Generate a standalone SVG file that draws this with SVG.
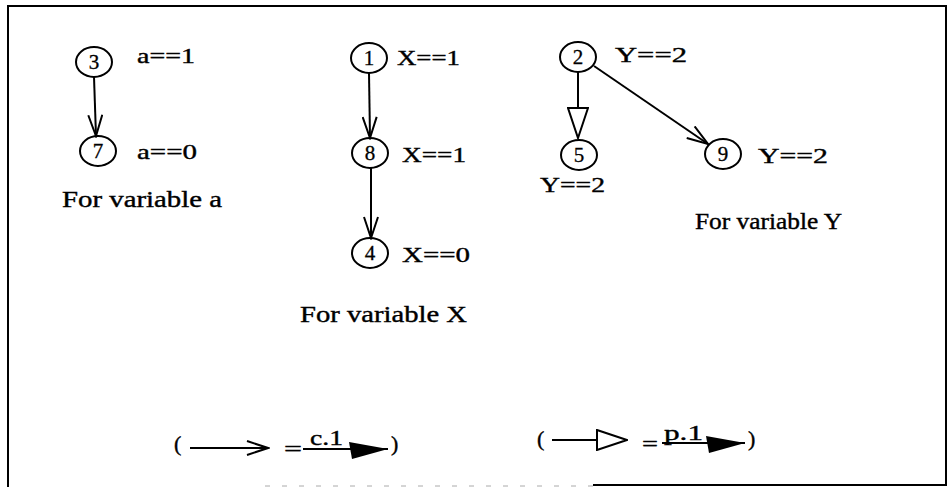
<svg xmlns="http://www.w3.org/2000/svg" width="949" height="487" viewBox="0 0 949 487">
<style>
.n{fill:none;stroke:#000;stroke-width:2}
.t{font-family:"Liberation Serif","Times New Roman",serif;font-size:22px;fill:#000;stroke:#000;stroke-width:0.4}
.c{font-size:23px}
.d{font-family:"Liberation Serif","Times New Roman",serif;font-size:21px;fill:#000;stroke:#000;stroke-width:0.3;text-anchor:middle}
.e{fill:none;stroke:#000;stroke-width:2}
</style>
<defs>
<marker id="vee" viewBox="0 0 24 16" markerWidth="24" markerHeight="16" refX="22" refY="8" orient="auto" markerUnits="userSpaceOnUse">
<path d="M1,1 L22,8 L1,15" fill="none" stroke="#000" stroke-width="2"/>
</marker>
<marker id="tri" viewBox="0 0 32 22" markerWidth="32" markerHeight="22" refX="31" refY="11" orient="auto" markerUnits="userSpaceOnUse">
<path d="M1,1 L31,11 L1,21 Z" fill="#fff" stroke="#000" stroke-width="2"/>
</marker>
<marker id="fill" viewBox="0 0 40 20" markerWidth="40" markerHeight="20" refX="39" refY="9" orient="auto" markerUnits="userSpaceOnUse">
<path d="M0,2 L39,9 L3,19 Z" fill="#000"/>
</marker>
</defs>
<rect width="949" height="487" fill="#fff"/>
<g id="frame" fill="none" stroke="#000" stroke-width="2">
<path d="M8,487 L8,6 L946,6 L946,485 L593,485"/>
<path d="M265,486 L593,486" stroke="#aaa" stroke-width="1" stroke-dasharray="5,12"/>
</g>
<g id="connectors">
<line class="e" x1="94" y1="77" x2="96" y2="136" marker-end="url(#vee)"/>
<line class="e" x1="369" y1="73" x2="370" y2="138" marker-end="url(#vee)"/>
<line class="e" x1="371" y1="168" x2="371" y2="238" marker-end="url(#vee)"/>
<line class="e" x1="578" y1="72" x2="578" y2="138" marker-end="url(#tri)"/>
<line class="e" x1="594" y1="66" x2="708" y2="144" marker-end="url(#vee)"/>
</g>
<g id="n3"><ellipse class="n" cx="94" cy="62" rx="18" ry="15"/><text class="d" x="94" y="69">3</text><text class="t" x="137" y="63" textLength="58" lengthAdjust="spacingAndGlyphs">a==1</text></g>
<g id="n7"><ellipse class="n" cx="98" cy="151" rx="18" ry="15"/><text class="d" x="98" y="158">7</text><text class="t" x="137" y="159" textLength="60" lengthAdjust="spacingAndGlyphs">a==0</text></g>
<g id="n1"><ellipse class="n" cx="369" cy="58" rx="18" ry="15"/><text class="d" x="369" y="65">1</text><text class="t" x="397" y="65" textLength="63" lengthAdjust="spacingAndGlyphs">X==1</text></g>
<g id="n8"><ellipse class="n" cx="370" cy="153" rx="18" ry="15"/><text class="d" x="370" y="160">8</text><text class="t" x="402" y="162" textLength="64" lengthAdjust="spacingAndGlyphs">X==1</text></g>
<g id="n4"><ellipse class="n" cx="370" cy="253" rx="18" ry="15"/><text class="d" x="370" y="260">4</text><text class="t" x="402" y="262" textLength="68" lengthAdjust="spacingAndGlyphs">X==0</text></g>
<g id="n2"><ellipse class="n" cx="578" cy="57" rx="18" ry="15"/><text class="d" x="578" y="64">2</text><text class="t" x="615" y="62" textLength="72" lengthAdjust="spacingAndGlyphs">Y==2</text></g>
<g id="n5"><ellipse class="n" cx="579" cy="155" rx="18" ry="15"/><text class="d" x="579" y="162">5</text><text class="t" x="540" y="192" textLength="65" lengthAdjust="spacingAndGlyphs">Y==2</text></g>
<g id="n9"><ellipse class="n" cx="723" cy="154" rx="18" ry="15"/><text class="d" x="723" y="161">9</text><text class="t" x="758" y="163" textLength="70" lengthAdjust="spacingAndGlyphs">Y==2</text></g>
<g id="captions">
<text class="t c" x="62" y="207" textLength="160" lengthAdjust="spacingAndGlyphs">For variable a</text>
<text class="t c" x="300" y="322" textLength="167" lengthAdjust="spacingAndGlyphs">For variable X</text>
<text class="t c" x="695" y="229" textLength="147" lengthAdjust="spacingAndGlyphs">For variable Y</text>
</g>
<g id="legend">
<text class="t" x="174" y="451">(</text>
<line class="e" x1="190" y1="448" x2="268" y2="448" marker-end="url(#vee)"/>
<text class="t" x="284" y="456" textLength="18" lengthAdjust="spacingAndGlyphs">=</text>
<text class="t" x="310" y="445" textLength="33" lengthAdjust="spacingAndGlyphs">c.1</text>
<line class="e" x1="303" y1="449" x2="388" y2="449" marker-end="url(#fill)"/>
<text class="t" x="391" y="451">)</text>
<text class="t" x="537" y="446">(</text>
<line class="e" x1="552" y1="440" x2="627" y2="440" marker-end="url(#tri)"/>
<text class="t" x="642" y="451" textLength="16" lengthAdjust="spacingAndGlyphs">=</text>
<text class="t" x="664" y="440" textLength="39" lengthAdjust="spacingAndGlyphs">p.1</text>
<line class="e" x1="662" y1="443" x2="745" y2="443" marker-end="url(#fill)"/>
<text class="t" x="748" y="446">)</text>
</g>
</svg>
